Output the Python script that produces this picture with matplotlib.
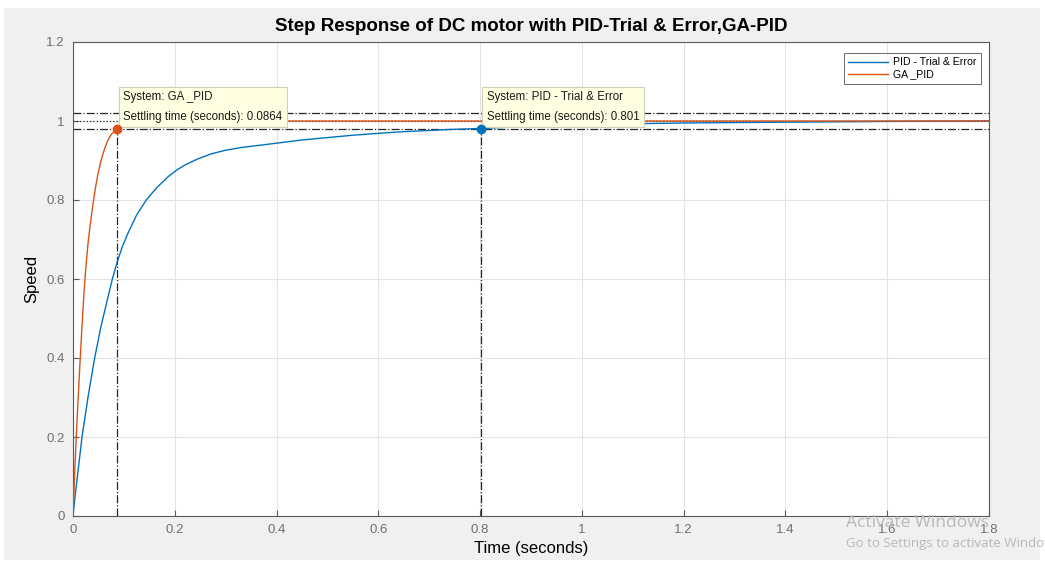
import matplotlib
matplotlib.use("Agg")
import matplotlib.pyplot as plt
from matplotlib.patches import Rectangle
from matplotlib.ticker import FuncFormatter

plt.rcParams['font.family'] = ['Liberation Sans', 'DejaVu Sans']

# ---- data ----
t_pid = [0.0, 0.005, 0.01, 0.0177, 0.03, 0.0426, 0.055, 0.0674, 0.077, 0.087,
         0.097, 0.108, 0.125, 0.144, 0.165, 0.187, 0.203, 0.219, 0.245, 0.272,
         0.30, 0.331, 0.37, 0.407, 0.45, 0.5, 0.55, 0.603, 0.65, 0.70,
         0.75, 0.80, 0.85, 0.90, 0.95, 1.0, 1.1, 1.2, 1.3, 1.4,
         1.5, 1.6, 1.7, 1.8]
y_pid = [0.0, 0.06, 0.115, 0.20, 0.305, 0.40, 0.48, 0.547, 0.598, 0.644,
         0.682, 0.716, 0.762, 0.80, 0.832, 0.859, 0.875, 0.888, 0.904, 0.917,
         0.926, 0.933, 0.939, 0.945, 0.952, 0.958, 0.964, 0.969, 0.973, 0.976,
         0.979, 0.981, 0.984, 0.986, 0.988, 0.990, 0.993, 0.995, 0.996, 0.997,
         0.998, 0.999, 0.9995, 1.0]

t_ga = [0.0, 0.003, 0.006, 0.009, 0.012, 0.0138, 0.0164, 0.019, 0.0216, 0.025,
        0.0295, 0.034, 0.0393, 0.044, 0.049, 0.055, 0.0622, 0.068, 0.075, 0.0864,
        0.095, 0.105, 0.12, 0.14, 0.17, 0.2, 0.5, 1.0, 1.8]
y_ga = [0.0, 0.10, 0.19, 0.27, 0.345, 0.39, 0.45, 0.51, 0.565, 0.625,
        0.69, 0.74, 0.79, 0.83, 0.866, 0.90, 0.93, 0.95, 0.966, 0.98,
        0.987, 0.992, 0.996, 0.998, 0.9995, 1.0, 1.0, 1.0, 1.0]

labels = ["PID - Trial & Error", "GA _PID"]
settle_t = [0.801, 0.0864]
settle_txt = ["0.801", "0.0864"]
settle_level = 0.98
band = [0.98, 1.02]
final_value = 1.0

xticks = [0, 0.2, 0.4, 0.6, 0.8, 1.0, 1.2, 1.4, 1.6, 1.8]
yticks = [0, 0.2, 0.4, 0.6, 0.8, 1.0, 1.2]

c_blue = "#0072BD"
c_orange = "#D95319"
bg = "#F0F0F0"

fig = plt.figure(figsize=(10.45, 5.66), dpi=100, facecolor="white")
fig.patches.append(Rectangle((4/1045, 6/566), 1036/1045, 552/566,
                             transform=fig.transFigure, facecolor=bg,
                             edgecolor="none", zorder=-10))
ax = fig.add_axes([73/1045, 50/566, 916/1045, 474/566])
ax.set_facecolor("white")

ax.set_xlim(0, 1.8)
ax.set_ylim(0, 1.2)
ax.set_xticks(xticks)
ax.set_yticks(yticks)
fmt = FuncFormatter(lambda v, p: ("%g" % round(v, 2)))
ax.xaxis.set_major_formatter(fmt)
ax.yaxis.set_major_formatter(fmt)
ax.grid(True, color="#E3E3E3", linewidth=0.8)
ax.set_axisbelow(True)
ax.tick_params(direction="in", length=4, color="#5A5A5A", labelcolor="#707070",
               labelsize=9.5, top=False, right=False, pad=6)
for s in ax.spines.values():
    s.set_color("#5A5A5A")
    s.set_linewidth(0.8)

# settling band and final value
for b in band:
    ax.axhline(b, color="#262626", linestyle="-.", linewidth=0.9, zorder=2)
ax.axhline(final_value, color="#262626", linestyle=":", linewidth=0.9, zorder=1.5)

l1, = ax.plot(t_pid, y_pid, color=c_blue, linewidth=1.0, zorder=3, label=labels[0])
l2, = ax.plot(t_ga, y_ga, color=c_orange, linewidth=1.0, zorder=3, label=labels[1])

for ts, c in zip(settle_t, [c_blue, c_orange]):
    ax.plot([ts, ts], [0, settle_level], color="#262626", linestyle="-.",
            linewidth=0.9, zorder=2)
    ax.plot([ts], [settle_level], "o", color=c, markersize=6, zorder=8)

# data tips
for ts, lab, txt in zip(settle_t, labels, settle_txt):
    ax.annotate("System: %s\nSettling time (seconds): %s" % (lab, txt),
                xy=(ts, settle_level), xytext=(4.5, 4.5), textcoords="offset points",
                fontsize=8.3, color="#1A1A1A", ha="left", va="bottom",
                linespacing=1.8, zorder=6,
                bbox=dict(boxstyle="square,pad=0.38", facecolor="#FFFFE1",
                          edgecolor="#D0D0B8", linewidth=0.8))

leg = ax.legend(handles=[l1, l2], loc="upper right", fontsize=7.6,
                frameon=True, fancybox=False, edgecolor="#262626",
                borderaxespad=0.0, handlelength=3.8, handletextpad=0.5,
                borderpad=0.4, labelspacing=0.2,
                bbox_to_anchor=((981 - 73) / 916, 1 - 11 / 474))
leg.get_frame().set_linewidth(0.6)

ax.set_title("Step Response of DC motor with PID-Trial & Error,GA-PID",
             fontsize=13.5, fontweight="bold", pad=8)
ax.set_xlabel("Time (seconds)", fontsize=12, labelpad=3)
ax.set_ylabel("Speed", fontsize=12, labelpad=5)

fig.text(846/1045, 1 - 523/566, "Activate Windows", fontsize=12.5,
         color="#B8B8B8", ha="left", va="center", family="Open Sans")
fig.text(846/1045, 1 - 543/566, "Go to Settings to activate Windows",
         fontsize=9.5, color="#B8B8B8", ha="left", va="center", family="Open Sans")

fig.savefig("out.png", dpi=100, facecolor=fig.get_facecolor())
